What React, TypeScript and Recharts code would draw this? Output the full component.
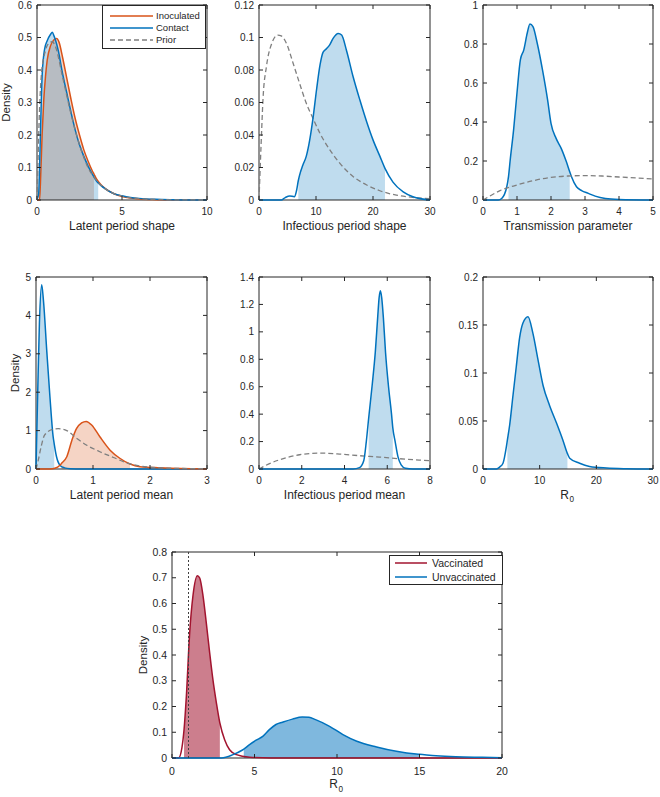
import React from 'react';
import { ComposedChart, Line, Area, XAxis, YAxis, ReferenceLine, ReferenceArea } from 'recharts';

const FONT = '"Liberation Sans", Arial, Helvetica, sans-serif';
const INK = '#262626';
const BLUE = '#0072BD';
const ORANGE = '#D95319';
const RED = '#A2142F';
const GREY = '#7f7f7f';

// --- Latent period shape ---
const inocShapeX = [0, 0.15, 0.2, 0.3, 0.4, 0.5, 0.6, 0.8, 1.0, 1.15, 1.3, 1.5, 1.75, 2.0, 2.25, 2.5, 2.75, 3.0, 3.25, 3.35, 3.5, 3.75, 4, 4.5, 5, 5.5, 6, 7, 8, 10];
const inocShapeY = [0, 0, 0.05, 0.2, 0.31, 0.38, 0.43, 0.475, 0.493, 0.497, 0.485, 0.44, 0.375, 0.31, 0.25, 0.2, 0.155, 0.12, 0.09, 0.08, 0.065, 0.048, 0.036, 0.02, 0.011, 0.006, 0.003, 0.001, 0, 0];
const contactShapeX = [0, 0.1, 0.15, 0.2, 0.3, 0.45, 0.6, 0.8, 0.9, 1.0, 1.1, 1.25, 1.5, 1.75, 2.0, 2.25, 2.5, 2.75, 3.0, 3.25, 3.5, 3.6, 3.75, 4.0, 4.5, 5, 5.5, 6, 7, 8, 9, 10];
const contactShapeY = [0, 0.02, 0.1, 0.2, 0.38, 0.465, 0.49, 0.51, 0.516, 0.505, 0.49, 0.46, 0.39, 0.33, 0.27, 0.215, 0.17, 0.135, 0.105, 0.08, 0.058, 0.052, 0.045, 0.035, 0.02, 0.013, 0.008, 0.005, 0.002, 0.0008, 0.0002, 0];
const priorShapeX = [0, 0.05, 0.1, 0.25, 0.5, 0.75, 0.9, 1.1, 1.5, 2, 2.5, 3, 3.5, 4, 5, 6, 7, 8, 10];
const priorShapeY = [0, 0.1, 0.2, 0.38, 0.46, 0.485, 0.487, 0.47, 0.38, 0.265, 0.17, 0.1, 0.06, 0.035, 0.012, 0.004, 0.0015, 0.0005, 0];
const inocShapeCI = [0.15, 3.35];
const contactShapeCI = [0.15, 3.6];

// --- Infectious period shape ---
const infShapeX = [0, 3.9, 4.6, 5.4, 6.2, 6.6, 6.9, 7.1, 7.7, 8.3, 8.9, 9.5, 10.1, 10.7, 11.25, 11.8, 12.4, 13.0, 13.9, 14.5, 15.35, 16.5, 17.7, 18.9, 20.0, 21.2, 22.1, 23.5, 25.3, 27, 30];
const infShapeY = [0, 0, 0.0015, 0.0025, 0.002, 0.006, 0.012, 0.015, 0.0215, 0.027, 0.037, 0.051, 0.068, 0.083, 0.091, 0.093, 0.0955, 0.0995, 0.1025, 0.1015, 0.092, 0.076, 0.0615, 0.048, 0.037, 0.027, 0.0195, 0.011, 0.005, 0.002, 0];
const priorInfShapeX = [0, 0.4, 0.7, 1.3, 2.2, 3.3, 3.9, 4.8, 6.0, 7.1, 8.3, 9.5, 10.7, 12.4, 14.2, 16.5, 18.9, 21.2, 24.1, 27, 30];
const priorInfShapeY = [0, 0.037, 0.062, 0.082, 0.096, 0.1015, 0.101, 0.0965, 0.084, 0.072, 0.0595, 0.05, 0.041, 0.031, 0.0225, 0.0145, 0.0092, 0.0057, 0.003, 0.0016, 0.0008];
const infShapeCI = [6.9, 22.1];

// --- Transmission parameter ---
const transX = [0, 0.45, 0.55, 0.7, 0.75, 0.8, 0.9, 1.0, 1.1, 1.2, 1.3, 1.38, 1.47, 1.6, 1.75, 1.9, 2.0, 2.15, 2.3, 2.45, 2.55, 2.6, 2.75, 2.9, 3.1, 3.3, 3.6, 4, 5];
const transY = [0, 0, 0.008, 0.068, 0.12, 0.205, 0.36, 0.55, 0.72, 0.77, 0.855, 0.903, 0.889, 0.8, 0.667, 0.513, 0.393, 0.316, 0.265, 0.197, 0.145, 0.12, 0.068, 0.048, 0.034, 0.02, 0.008, 0.003, 0];
const priorTransX = [0, 0.2, 0.5, 1, 1.5, 2, 2.5, 3, 3.5, 4, 4.5, 5];
const priorTransY = [0, 0.02, 0.048, 0.077, 0.1, 0.116, 0.123, 0.125, 0.123, 0.118, 0.113, 0.108];
const transCI = [0.75, 2.55];

// --- Latent period mean ---
const contactMeanX = [0, 0.03, 0.06, 0.1, 0.13, 0.19, 0.245, 0.3, 0.32, 0.36, 0.42, 0.5, 0.6, 0.8, 3];
const contactMeanY = [0, 2.0, 3.8, 4.8, 4.4, 3.05, 1.87, 0.85, 0.65, 0.32, 0.1, 0.03, 0.008, 0, 0];
const inocMeanX = [0, 0.25, 0.33, 0.42, 0.45, 0.54, 0.63, 0.71, 0.8, 0.88, 0.98, 1.12, 1.3, 1.47, 1.65, 1.82, 2.18, 2.53, 3];
const inocMeanY = [0, 0, 0.02, 0.1, 0.15, 0.32, 0.75, 1.05, 1.2, 1.24, 1.14, 0.84, 0.49, 0.28, 0.13, 0.06, 0.03, 0.01, 0];
const priorMeanX = [0, 0.04, 0.09, 0.15, 0.29, 0.39, 0.54, 0.71, 0.89, 1.12, 1.36, 1.59, 1.82, 2.18, 3];
const priorMeanY = [0, 0.23, 0.58, 0.88, 1.03, 1.05, 1.0, 0.8, 0.62, 0.45, 0.3, 0.16, 0.08, 0.03, 0.005];
const contactMeanCI = [0, 0.32];
const inocMeanCI = [0.45, 1.65];

// --- Infectious period mean ---
const infMeanX = [0, 4.4, 4.7, 4.9, 5.02, 5.13, 5.3, 5.44, 5.55, 5.62, 5.68, 5.74, 5.82, 5.92, 6.06, 6.2, 6.26, 6.37, 6.5, 6.65, 6.85, 7.2, 8];
const infMeanY = [0, 0, 0.01, 0.06, 0.2, 0.37, 0.62, 0.85, 1.1, 1.25, 1.3, 1.25, 1.1, 0.85, 0.6, 0.4, 0.3, 0.2, 0.09, 0.03, 0.005, 0, 0];
const priorInfMeanX = [0, 0.3, 0.97, 1.9, 2.83, 3.77, 4.7, 5.64, 6.57, 7.5, 8];
const priorInfMeanY = [0, 0.025, 0.068, 0.104, 0.116, 0.109, 0.097, 0.087, 0.075, 0.065, 0.06];
const infMeanCI = [5.13, 6.26];

// --- R0 ---
const r0X = [0, 2.4, 2.94, 3.53, 4.12, 4.3, 4.7, 5.29, 5.88, 6.47, 7.05, 7.94, 8.82, 9.7, 10.6, 11.76, 12.9, 14.1, 14.9, 15.3, 17.05, 18.8, 21.8, 25.3, 30];
const r0Y = [0, 0, 0.002, 0.006, 0.023, 0.03, 0.0456, 0.0766, 0.107, 0.137, 0.152, 0.1586, 0.141, 0.114, 0.087, 0.066, 0.049, 0.03, 0.016, 0.0113, 0.006, 0.0027, 0.001, 0.0003, 0];
const r0CI = [4.3, 14.9];

// --- R0 by vaccination status ---
const vacX = [0, 0.4, 0.6, 0.73, 0.87, 1.07, 1.27, 1.54, 1.68, 1.88, 2.08, 2.28, 2.48, 2.69, 2.9, 3.19, 3.49, 3.9, 4.7, 6, 20];
const vacY = [0, 0, 0.039, 0.11, 0.24, 0.485, 0.63, 0.708, 0.699, 0.63, 0.524, 0.41, 0.304, 0.214, 0.136, 0.071, 0.032, 0.013, 0.003, 0, 0];
const unvacX = [0, 3.0, 3.7, 4.3, 4.35, 4.7, 5.1, 5.5, 5.9, 6.3, 6.7, 7.3, 7.9, 8.3, 8.7, 9.55, 10.36, 11.2, 12.4, 13.6, 14.8, 15.0, 16.0, 17.2, 18.8, 20];
const unvacY = [0, 0, 0.013, 0.032, 0.034, 0.052, 0.069, 0.084, 0.11, 0.13, 0.139, 0.151, 0.159, 0.158, 0.149, 0.123, 0.091, 0.065, 0.043, 0.026, 0.0155, 0.0145, 0.009, 0.005, 0.0026, 0.001];
const vacCI = [0.73, 2.9];
const unvacCI = [4.35, 15.0];
const r0Threshold = 1;

// tick labels
const shapeTicksX = [0, 5, 10];
const shapeTicksY = [0, 0.1, 0.2, 0.3, 0.4, 0.5, 0.6];
const infShapeTicksX = [0, 10, 20, 30];
const infShapeTicksY = [0, 0.02, 0.04, 0.06, 0.08, 0.1, 0.12];
const transTicksX = [0, 1, 2, 3, 4, 5];
const transTicksY = [0, 0.2, 0.4, 0.6, 0.8, 1];
const latMeanTicksX = [0, 1, 2, 3];
const latMeanTicksY = [0, 1, 2, 3, 4, 5];
const infMeanTicksX = [0, 2, 4, 6, 8];
const infMeanTicksY = [0, 0.2, 0.4, 0.6, 0.8, 1, 1.2, 1.4];
const r0TicksX = [0, 10, 20, 30];
const r0TicksY = [0, 0.05, 0.1, 0.15, 0.2];
const vacTicksX = [0, 5, 10, 15, 20];
const vacTicksY = [0, 0.1, 0.2, 0.3, 0.4, 0.5, 0.6, 0.7, 0.8];

const shapeLegend = ['Inoculated', 'Contact', 'Prior'];
const vacLegend = ['Vaccinated', 'Unvaccinated'];

const pts = (xs: number[], ys: number[]) => xs.map((x, i) => ({ x, y: ys[i] }));
const band = (xs: number[], ys: number[], ci: number[]) =>
  pts(xs, ys).filter((p) => p.x >= ci[0] && p.x <= ci[1]);

const fillArea = (key: string, data: any[], color: string, op: number) => (
  <Area key={key} data={data} dataKey="y" type="monotone" stroke="none" fill={color} fillOpacity={op} isAnimationActive={false} />
);
const curve = (key: string, data: any[], color: string, dash?: string, w = 1.5) => (
  <Line key={key} data={data} dataKey="y" type="monotone" stroke={color} strokeWidth={w} strokeDasharray={dash} dot={false} activeDot={false} isAnimationActive={false} />
);

const YW = 50;
const MT = 6;
const MR = 6;
const XH = 45;
const TICK = 4;

type PanelProps = {
  left: number;
  top: number;
  w: number;
  h: number;
  xDomain: [number, number];
  xTicks: number[];
  yDomain: [number, number];
  yTicks: number[];
  xLabel: string;
  xSub?: string;
  yLabelGap?: number;
  tickFont?: number;
  labelFont?: number;
  tickGap?: number;
  xLabelDy?: number;
  children: React.ReactNode;
};

function Panel(p: PanelProps) {
  const tf = p.tickFont ?? 10;
  const lf = p.labelFont ?? 12;
  const tickStyle = { fontSize: tf, fill: INK, fontFamily: FONT };
  const lx = YW + p.w / 2;
  const ly = MT + p.h + (p.xLabelDy ?? 29.5);
  const xl = () =>
    p.xSub ? (
      <g>
        <text x={lx + 1} y={ly} textAnchor="end" fontSize={lf} fill={INK} fontFamily={FONT}>
          {p.xLabel}
        </text>
        <text x={lx + 1.5} y={ly + 3.5} textAnchor="start" fontSize={lf * 0.68} fill={INK} fontFamily={FONT}>
          {p.xSub}
        </text>
      </g>
    ) : (
      <text x={lx} y={ly} textAnchor="middle" fontSize={lf} fill={INK} fontFamily={FONT}>
        {p.xLabel}
      </text>
    );
  const cx = YW - (p.yLabelGap ?? 30) + lf * 0.35;
  const cy = MT + p.h / 2;
  const yl = () =>
    p.yLabelGap ? (
      <text x={cx} y={cy} transform={`rotate(-90 ${cx} ${cy})`} textAnchor="middle" fontSize={lf * 0.96} fill={INK} fontFamily={FONT}>
        Density
      </text>
    ) : null;
  // inward tick marks on all four sides, expressed in data units of each axis
  const [x0, x1] = p.xDomain;
  const [y0, y1] = p.yDomain;
  const tx = (TICK / p.w) * (x1 - x0);
  const ty = (TICK / p.h) * (y1 - y0);
  const tickMarks: React.ReactNode[] = [];
  p.xTicks.forEach((t, i) => {
    tickMarks.push(<ReferenceLine key={`xb${i}`} ifOverflow="visible" segment={[{ x: t, y: y0 }, { x: t, y: y0 + ty }]} stroke={INK} strokeWidth={1} />);
    tickMarks.push(<ReferenceLine key={`xt${i}`} ifOverflow="visible" segment={[{ x: t, y: y1 }, { x: t, y: y1 - ty }]} stroke={INK} strokeWidth={1} />);
  });
  p.yTicks.forEach((t, i) => {
    tickMarks.push(<ReferenceLine key={`yl${i}`} ifOverflow="visible" segment={[{ x: x0, y: t }, { x: x0 + tx, y: t }]} stroke={INK} strokeWidth={1} />);
    tickMarks.push(<ReferenceLine key={`yr${i}`} ifOverflow="visible" segment={[{ x: x1, y: t }, { x: x1 - tx, y: t }]} stroke={INK} strokeWidth={1} />);
  });
  return (
    <div style={{ position: 'absolute', left: p.left - YW, top: p.top - MT }}>
      <ComposedChart width={YW + p.w + MR} height={MT + p.h + XH} margin={{ top: MT, right: MR, bottom: 0, left: 0 }}>
        <XAxis dataKey="x" type="number" domain={p.xDomain} ticks={p.xTicks} interval={0} height={XH} axisLine={false} tickLine={false} tickSize={0} tickMargin={p.tickGap ?? 7.7} tick={tickStyle} label={{ content: xl }} />
        <YAxis type="number" domain={p.yDomain} ticks={p.yTicks} interval={0} width={YW} axisLine={false} tickLine={false} tickSize={0} tickMargin={5} tick={tickStyle} label={{ content: yl }} />
        {p.children}
        <ReferenceArea x1={x0} x2={x1} y1={y0} y2={y1} ifOverflow="visible" fill="none" fillOpacity={0} stroke={INK} strokeWidth={1} />
        {tickMarks}
      </ComposedChart>
    </div>
  );
}

type LegendRow = { label: string; color: string; dash?: string };

function LegendBox(props: { x: number; y: number; w: number; h: number; rows: LegendRow[]; rowY: number[]; lineX: number; lineW: number; textX: number; size: number }) {
  const { x, y, w, h, rows, rowY, lineX, lineW, textX, size } = props;
  return (
    <div style={{ position: 'absolute', left: x, top: y, width: w, height: h, border: `1px solid ${INK}`, background: '#fff', boxSizing: 'border-box' }}>
      {rows.map((r, i) => (
        <div key={r.label} style={{ position: 'absolute', left: 0, top: rowY[i] - 8, height: 16, width: '100%' }}>
          <svg style={{ position: 'absolute', left: lineX, top: 0 }} width={lineW} height={16}>
            <line x1={0} x2={lineW} y1={8} y2={8} stroke={r.color} strokeWidth={1.5} strokeDasharray={r.dash} />
          </svg>
          <span style={{ position: 'absolute', left: textX, top: 0, lineHeight: '16px', fontSize: size, color: INK, fontFamily: FONT, whiteSpace: 'nowrap' }}>
            {r.label}
          </span>
        </div>
      ))}
    </div>
  );
}

export default function App() {
  return (
    <div style={{ position: 'absolute', left: 0, top: 0, width: 660, height: 797, background: '#fff', overflow: 'hidden', fontFamily: FONT }}>
      <Panel left={37} top={5} w={170} h={195} xDomain={[0, 10]} xTicks={shapeTicksX} yDomain={[0, 0.6]} yTicks={shapeTicksY} xLabel="Latent period shape" yLabelGap={31}>
        {fillArea('fi', band(inocShapeX, inocShapeY, inocShapeCI), ORANGE, 0.25)}
        {fillArea('fc', band(contactShapeX, contactShapeY, contactShapeCI), BLUE, 0.25)}
        {curve('li', pts(inocShapeX, inocShapeY), ORANGE)}
        {curve('lc', pts(contactShapeX, contactShapeY), BLUE)}
        {curve('lp', pts(priorShapeX, priorShapeY), GREY, '5 3', 1.3)}
      </Panel>
      <Panel left={259} top={5} w={171} h={195} xDomain={[0, 30]} xTicks={infShapeTicksX} yDomain={[0, 0.12]} yTicks={infShapeTicksY} xLabel="Infectious period shape">
        {fillArea('f', band(infShapeX, infShapeY, infShapeCI), BLUE, 0.25)}
        {curve('lp', pts(priorInfShapeX, priorInfShapeY), GREY, '5 3', 1.3)}
        {curve('l', pts(infShapeX, infShapeY), BLUE)}
      </Panel>
      <Panel left={483} top={5} w={170} h={195} xDomain={[0, 5]} xTicks={transTicksX} yDomain={[0, 1]} yTicks={transTicksY} xLabel="Transmission parameter">
        {fillArea('f', band(transX, transY, transCI), BLUE, 0.25)}
        {curve('l', pts(transX, transY), BLUE)}
        {curve('lp', pts(priorTransX, priorTransY), GREY, '5 3', 1.3)}
      </Panel>
      <Panel left={36} top={277} w={171} h={192} xDomain={[0, 3]} xTicks={latMeanTicksX} yDomain={[0, 5]} yTicks={latMeanTicksY} xLabel="Latent period mean" yLabelGap={21}>
        {fillArea('fc', band(contactMeanX, contactMeanY, contactMeanCI), BLUE, 0.25)}
        {fillArea('fi', band(inocMeanX, inocMeanY, inocMeanCI), ORANGE, 0.25)}
        {curve('lc', pts(contactMeanX, contactMeanY), BLUE)}
        {curve('li', pts(inocMeanX, inocMeanY), ORANGE)}
        {curve('lp', pts(priorMeanX, priorMeanY), GREY, '5 3', 1.3)}
      </Panel>
      <Panel left={259} top={277} w={171} h={192} xDomain={[0, 8]} xTicks={infMeanTicksX} yDomain={[0, 1.4]} yTicks={infMeanTicksY} xLabel="Infectious period mean">
        {fillArea('f', band(infMeanX, infMeanY, infMeanCI), BLUE, 0.25)}
        {curve('lp', pts(priorInfMeanX, priorInfMeanY), GREY, '5 3', 1.3)}
        {curve('l', pts(infMeanX, infMeanY), BLUE)}
      </Panel>
      <Panel left={483} top={277} w={170} h={192} xDomain={[0, 30]} xTicks={r0TicksX} yDomain={[0, 0.2]} yTicks={r0TicksY} xLabel="R" xSub="0">
        {fillArea('f', band(r0X, r0Y, r0CI), BLUE, 0.25)}
        {curve('l', pts(r0X, r0Y), BLUE)}
      </Panel>
      <Panel left={172} top={552} w={330} h={206} xDomain={[0, 20]} xTicks={vacTicksX} yDomain={[0, 0.8]} yTicks={vacTicksY} xLabel="R" xSub="0" yLabelGap={29} tickFont={10.5} tickGap={9.5} xLabelDy={30}>
        {fillArea('fv', band(vacX, vacY, vacCI), RED, 0.55)}
        {fillArea('fu', band(unvacX, unvacY, unvacCI), BLUE, 0.5)}
        {curve('lv', pts(vacX, vacY), RED)}
        {curve('lu', pts(unvacX, unvacY), BLUE)}
        <ReferenceLine key="thr" x={r0Threshold} stroke="#404040" strokeDasharray="2 2" strokeWidth={1} />
      </Panel>
      <LegendBox
        x={102}
        y={5}
        w={104}
        h={44}
        rows={[
          { label: shapeLegend[0], color: ORANGE },
          { label: shapeLegend[1], color: BLUE },
          { label: shapeLegend[2], color: GREY, dash: '5 3' },
        ]}
        rowY={[9.5, 21.8, 34.3]}
        lineX={7}
        lineW={43}
        textX={53}
        size={9.5}
      />
      <LegendBox
        x={389}
        y={555}
        w={114}
        h={30}
        rows={[
          { label: vacLegend[0], color: RED },
          { label: vacLegend[1], color: BLUE },
        ]}
        rowY={[6.5, 20.5]}
        lineX={5}
        lineW={32}
        textX={42}
        size={10.5}
      />
    </div>
  );
}
